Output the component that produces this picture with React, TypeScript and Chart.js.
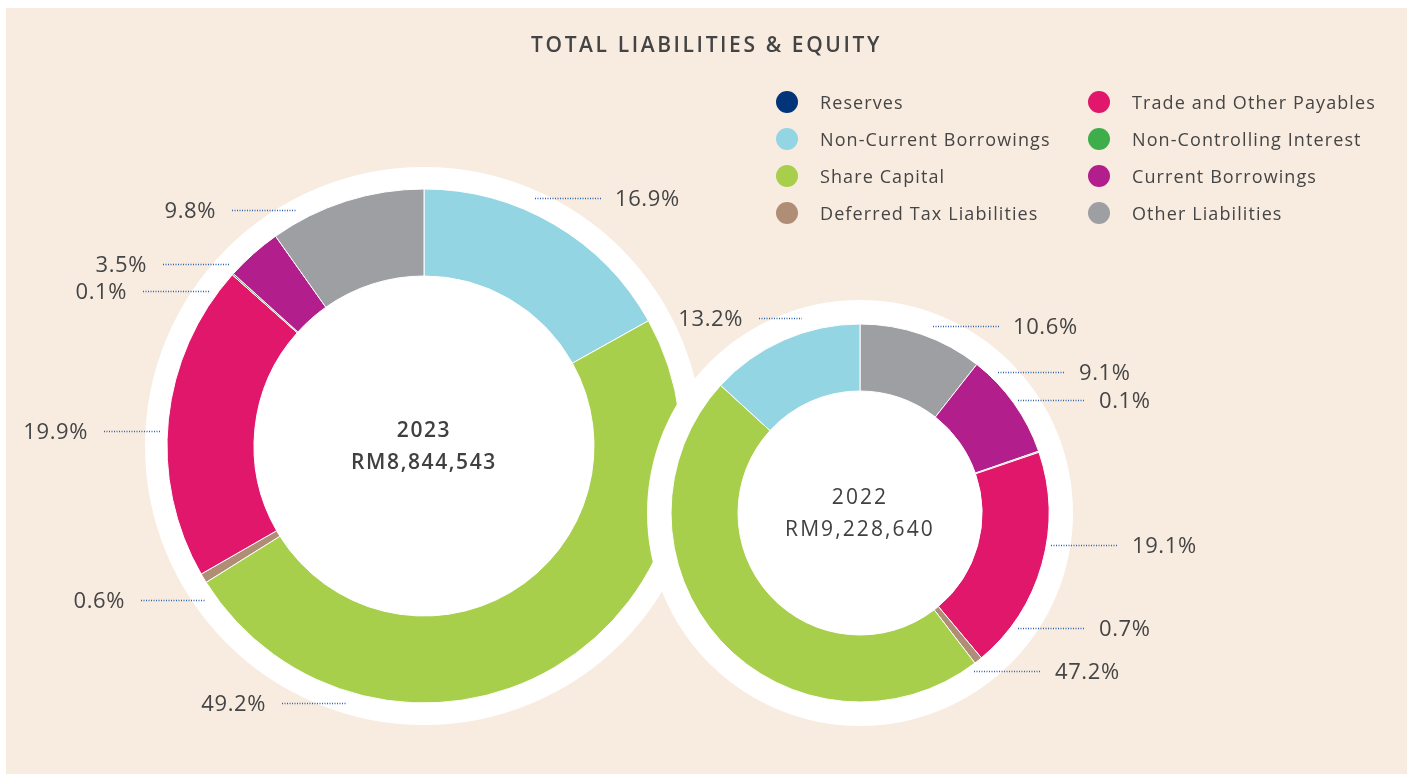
import React, { useEffect, useRef } from "react";
import { Chart, registerables } from "chart.js";

Chart.register(...registerables);

// ---------- data ----------
const categories = [
  "Reserves",
  "Non-Current Borrowings",
  "Share Capital",
  "Deferred Tax Liabilities",
  "Trade and Other Payables",
  "Non-Controlling Interest",
  "Current Borrowings",
  "Other Liabilities",
];
const colors = ["#023479", "#94D5E3", "#A8CF4C", "#B08E76", "#E0176A", "#3DAE4A", "#B21E8C", "#9E9FA3"];
const values2023 = [0, 16.9, 49.2, 0.6, 19.9, 0.1, 3.5, 9.8];
const values2022 = [0, 13.2, 47.2, 0.7, 19.1, 0.1, 9.1, 10.6];
const yearLabels = ["2023", "2022"];
const totalLabels = ["RM8,844,543", "RM9,228,640"];
const titleText = "TOTAL LIABILITIES & EQUITY";

// ---------- layout (label leader lines, offsets from donut centre) ----------
type LabelPos = { x1: number; x2: number; y: number; side: "left" | "right" };
const labelLayout2023: Record<number, LabelPos> = {
  1: { x1: 111, x2: 177, y: -248, side: "right" },
  2: { x1: -142, x2: -77, y: 257, side: "left" },
  3: { x1: -283, x2: -218, y: 154, side: "left" },
  4: { x1: -320, x2: -263, y: -15, side: "left" },
  5: { x1: -281, x2: -215, y: -155, side: "left" },
  6: { x1: -261, x2: -195, y: -182, side: "left" },
  7: { x1: -192, x2: -127, y: -236, side: "left" },
};
const labelLayout2022: Record<number, LabelPos> = {
  1: { x1: -101, x2: -58, y: -195, side: "left" },
  2: { x1: 114, x2: 181, y: 158, side: "right" },
  3: { x1: 158, x2: 225, y: 115, side: "right" },
  4: { x1: 191, x2: 258, y: 32, side: "right" },
  5: { x1: 158, x2: 225, y: -113, side: "right" },
  6: { x1: 138, x2: 205, y: -141, side: "right" },
  7: { x1: 73, x2: 139, y: -187, side: "right" },
};

const W = 1407;
const H = 774;
const FONT = "'Open Sans', 'Noto Sans', sans-serif";
const TEXT = "#454545";

type DonutCfg = {
  values: number[];
  reverse: boolean;
  cx: number;
  cy: number;
  outer: number;
  inner: number;
  ring: number;
  layout: Record<number, LabelPos>;
  year: string;
  total: string;
  centerBold: boolean;
};

function makeChart(canvas: HTMLCanvasElement, cfg: DonutCfg) {
  let idx = cfg.values.map((_, i) => i).filter((i) => cfg.values[i] > 0);
  if (cfg.reverse) idx = idx.slice().reverse();
  const half = cfg.ring + 5;
  const plugin = {
    id: "decor",
    beforeDatasetsDraw(chart: any) {
      const ctx = chart.ctx;
      const arc = chart.getDatasetMeta(0).data[0];
      ctx.save();
      ctx.beginPath();
      ctx.arc(arc.x, arc.y, cfg.ring, 0, Math.PI * 2);
      ctx.fillStyle = "#ffffff";
      ctx.fill();
      ctx.restore();
    },
    afterDatasetsDraw(chart: any) {
      const ctx = chart.ctx;
      const arc = chart.getDatasetMeta(0).data[0];
      const cx = arc.x;
      const cy = arc.y;
      ctx.save();
      // centre text
      ctx.fillStyle = "#404040";
      ctx.textAlign = "center";
      ctx.textBaseline = "middle";
      if (cfg.centerBold) {
        ctx.font = `600 21px ${FONT}`;
        (ctx as any).letterSpacing = "1.6px";
      } else {
        ctx.font = `400 21px ${FONT}`;
        (ctx as any).letterSpacing = "2.1px";
      }
      ctx.fillText(cfg.year, cx, cy - 15);
      ctx.fillText(cfg.total, cx, cy + 17);
      // leader lines + labels
      idx.forEach((i) => {
        const p = cfg.layout[i];
        if (!p) return;
        const y = cy + p.y + 0.5;
        ctx.beginPath();
        ctx.setLineDash([1, 1.5]);
        ctx.lineWidth = 1.3;
        ctx.strokeStyle = "#2f62ad";
        ctx.moveTo(cx + p.x1, y);
        ctx.lineTo(cx + p.x2, y);
        ctx.stroke();
        ctx.setLineDash([]);
        ctx.font = `400 22px ${FONT}`;
        (ctx as any).letterSpacing = "0.6px";
        ctx.fillStyle = TEXT;
        ctx.textBaseline = "middle";
        const txt = cfg.values[i].toFixed(1) + "%";
        if (p.side === "left") {
          ctx.textAlign = "right";
          ctx.fillText(txt, cx + p.x1 - 16, y + 1);
        } else {
          ctx.textAlign = "left";
          ctx.fillText(txt, cx + p.x2 + 14, y + 1);
        }
      });
      ctx.restore();
    },
  };
  return new Chart(canvas, {
    type: "doughnut",
    data: {
      labels: idx.map((i) => categories[i]),
      datasets: [
        {
          data: idx.map((i) => cfg.values[i]),
          backgroundColor: idx.map((i) => colors[i]),
          borderColor: "#ffffff",
          borderWidth: 1,
          hoverOffset: 0,
        },
      ],
    },
    options: {
      responsive: false,
      animation: false,
      events: [],
      radius: cfg.outer,
      cutout: ((cfg.inner / cfg.outer) * 100).toFixed(3) + "%",
      layout: {
        padding: {
          left: cfg.cx - half,
          right: W - (cfg.cx + half),
          top: cfg.cy - half,
          bottom: H - (cfg.cy + half),
        },
      },
      plugins: {
        legend: { display: false },
        title: { display: false },
        tooltip: { enabled: false },
      },
    } as any,
    plugins: [plugin],
  });
}

export default function App() {
  const c1 = useRef<HTMLCanvasElement>(null);
  const c2 = useRef<HTMLCanvasElement>(null);

  useEffect(() => {
    const a = makeChart(c1.current!, {
      values: values2023,
      reverse: false,
      cx: 424,
      cy: 446,
      outer: 257,
      inner: 170,
      ring: 279,
      layout: labelLayout2023,
      year: yearLabels[0],
      total: totalLabels[0],
      centerBold: true,
    });
    const b = makeChart(c2.current!, {
      values: values2022,
      reverse: true,
      cx: 860,
      cy: 513,
      outer: 189,
      inner: 122,
      ring: 213,
      layout: labelLayout2022,
      year: yearLabels[1],
      total: totalLabels[1],
      centerBold: false,
    });
    return () => {
      a.destroy();
      b.destroy();
    };
  }, []);

  const legendRows = [0, 1, 2, 3];
  return (
    <div
      style={{
        position: "fixed",
        left: 0,
        top: 0,
        width: W,
        height: H,
        overflow: "hidden",
        background: "#ffffff",
        fontFamily: FONT,
      }}
    >
      <div style={{ position: "absolute", left: 6, top: 8, width: W - 6, height: H - 8, background: "#F8ECE1" }} />
      <canvas ref={c1} width={W} height={H} style={{ position: "absolute", left: 0, top: 0 }} />
      <canvas ref={c2} width={W} height={H} style={{ position: "absolute", left: 0, top: 0 }} />
      <div
        style={{
          position: "absolute",
          left: 0,
          width: W + 6,
          top: 30,
          textAlign: "center",
          fontSize: 21,
          fontWeight: 600,
          letterSpacing: 2.6,
          color: "#444444",
          lineHeight: "28px",
        }}
      >
        {titleText}
      </div>
      {[0, 1].map((col) =>
        legendRows.map((row) => {
          const i = col * 4 + row;
          return (
            <div
              key={i}
              style={{
                position: "absolute",
                left: col === 0 ? 776 : 1088,
                top: 102 + row * 37 - 12,
                height: 24,
                display: "flex",
                alignItems: "center",
                whiteSpace: "nowrap",
              }}
            >
              <span
                style={{
                  display: "inline-block",
                  width: 22,
                  height: 22,
                  borderRadius: "50%",
                  background: colors[i],
                  marginRight: 22,
                }}
              />
              <span style={{ fontSize: 18, color: TEXT, letterSpacing: 1.1 }}>{categories[i]}</span>
            </div>
          );
        })
      )}
    </div>
  );
}
